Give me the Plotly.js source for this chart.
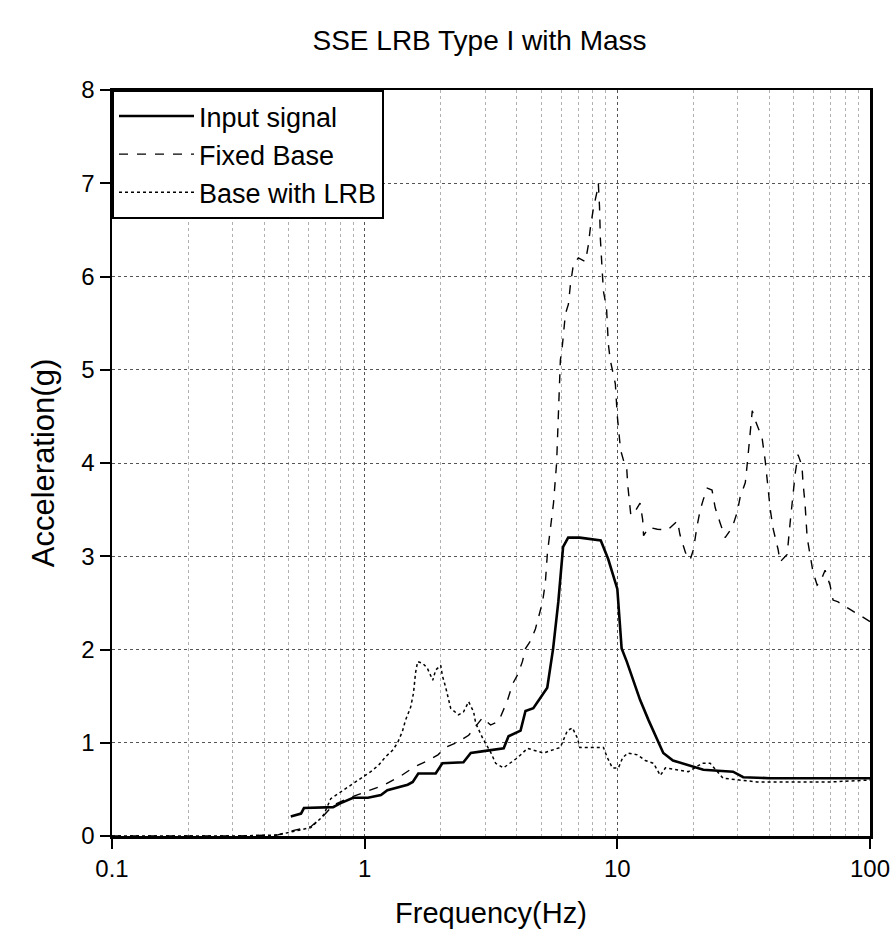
<!DOCTYPE html>
<html>
<head>
<meta charset="utf-8">
<script src="https://cdn.plot.ly/plotly-3.0.1.min.js"></script>
<style>html,body{margin:0;padding:0;background:#fff;}#chart{width:893px;height:946px;}</style>
</head>
<body>
<div id="chart"></div>
<script>
const seriesNames = ["Input signal", "Fixed Base", "Base with LRB"];

const freqInput = [0.51,0.56,0.575,0.75,0.80,0.90,1.03,1.16,1.23,1.35,1.48,1.55,1.63,1.91,2.03,2.46,2.63,2.96,3.55,3.71,4.14,4.33,4.65,5.28,5.57,5.84,6.10,6.39,7.10,8.60,9.20,10.0,10.4,10.9,12.3,13.3,14.4,15.2,16.6,18.9,21.9,28.7,31.5,40,60,100];
const accInput  = [0.21,0.24,0.30,0.31,0.35,0.41,0.41,0.44,0.49,0.52,0.55,0.58,0.67,0.67,0.78,0.79,0.89,0.91,0.94,1.07,1.13,1.34,1.37,1.59,2.01,2.51,3.10,3.20,3.20,3.17,2.97,2.65,2.01,1.87,1.46,1.24,1.03,0.89,0.81,0.76,0.71,0.69,0.63,0.62,0.62,0.62];

const freqFixed = [0.1,0.3,0.45,0.524,0.612,0.689,0.75,0.85,1.0,1.2,1.4,1.57,1.75,1.95,2.09,2.35,2.58,2.75,2.93,3.15,3.39,3.67,3.85,4.03,4.21,4.33,4.53,4.74,4.87,5.06,5.19,5.29,5.43,5.59,5.75,5.95,6.06,6.23,6.40,6.52,6.70,7.01,7.48,7.68,7.82,8.04,8.34,8.41,8.50,8.57,8.73,8.81,9.06,9.13,9.21,9.38,9.82,10.0,10.3,10.6,10.9,11.0,11.3,11.5,12.3,12.6,12.7,13.3,14.4,15.8,17.3,17.7,18.6,19.4,20.0,20.7,21.3,21.9,22.7,23.7,24.4,25.5,26.7,28.5,29.8,30.6,32.1,32.7,33.6,34.2,35.1,36.1,37.4,38.5,39.2,40.3,41.4,43.3,44.1,47.0,48.3,49.6,50.6,51.9,53.8,54.3,55.3,56.4,57.9,59.5,61.8,63.5,66.4,69.5,71.4,74.8,83.4,95.5,100];
const accFixed  = [0,0,0.01,0.06,0.10,0.22,0.33,0.40,0.47,0.55,0.65,0.74,0.80,0.87,0.95,1.01,1.08,1.17,1.27,1.19,1.23,1.45,1.63,1.73,1.87,2.01,2.09,2.22,2.33,2.51,2.72,3.04,3.29,3.57,4.00,5.10,5.26,5.60,5.70,5.91,6.13,6.20,6.16,6.34,6.52,6.73,6.93,7.00,6.75,6.40,6.02,5.84,5.67,5.46,5.28,5.10,4.85,4.50,4.14,4.02,3.93,3.76,3.45,3.44,3.57,3.39,3.22,3.31,3.29,3.28,3.38,3.23,3.04,2.96,3.07,3.33,3.50,3.61,3.73,3.71,3.52,3.36,3.20,3.31,3.47,3.63,3.79,4.00,4.39,4.56,4.46,4.37,4.27,4.02,3.79,3.50,3.29,3.07,2.94,3.02,3.36,3.68,3.89,4.09,3.97,3.79,3.57,3.20,3.01,2.83,2.69,2.72,2.85,2.69,2.53,2.51,2.43,2.33,2.30];

const freqLRB = [0.1,0.3,0.45,0.524,0.612,0.67,0.689,0.734,0.857,0.921,1.057,1.136,1.21,1.29,1.35,1.41,1.45,1.52,1.56,1.59,1.62,1.70,1.77,1.86,1.91,2.0,2.03,2.09,2.19,2.35,2.46,2.58,2.70,2.75,2.93,3.15,3.30,3.54,4.03,4.41,5.10,5.95,6.34,6.64,6.95,7.1,8.04,8.81,9.13,9.56,10.1,10.5,11.0,12.0,12.9,13.9,14.8,15.5,19.1,21.7,23.3,26.2,35.7,50,70,100];
const accLRB  = [0,0,0.01,0.05,0.09,0.19,0.23,0.40,0.52,0.58,0.69,0.76,0.85,0.92,1.00,1.12,1.24,1.38,1.53,1.75,1.87,1.85,1.80,1.67,1.78,1.83,1.72,1.60,1.37,1.30,1.33,1.44,1.33,1.21,1.05,0.90,0.78,0.73,0.84,0.94,0.89,0.95,1.13,1.16,1.05,0.95,0.95,0.95,0.84,0.73,0.73,0.84,0.89,0.87,0.81,0.78,0.65,0.73,0.69,0.78,0.78,0.62,0.58,0.58,0.58,0.60];

const xTickVals = [0.1, 1, 10, 100];
const xTickText = ["0.1", "1", "10", "100"];
const yTickVals = [0,1,2,3,4,5,6,7,8];
const xMinorVals = [0.2,0.3,0.4,0.5,0.6,0.7,0.8,0.9,2,3,4,5,6,7,8,9,20,30,40,50,60,70,80,90];

const FONT = "Liberation Sans, Arial, Helvetica, sans-serif";

const traces = [
  {x: freqInput, y: accInput, name: seriesNames[0], mode: "lines",
   line: {color: "#000", width: 2.6, dash: "solid"}},
  {x: freqFixed, y: accFixed, name: seriesNames[1], mode: "lines",
   line: {color: "#000", width: 1.4, dash: "dash"}},
  {x: freqLRB, y: accLRB, name: seriesNames[2], mode: "lines",
   line: {color: "#000", width: 1.5, dash: "dot"}}
];

const layout = {
  width: 893, height: 946,
  paper_bgcolor: "#fff", plot_bgcolor: "#fff",
  margin: {l: 112, r: 23, t: 90, b: 110},
  font: {family: FONT, color: "#000", size: 24},
  title: {text: "SSE LRB Type I with Mass", font: {family: FONT, size: 28, color: "#000"},
          x: 0.537, xanchor: "center", y: 0.958, yanchor: "middle", yref: "container"},
  showlegend: true,
  legend: {x: 0, y: 1, xanchor: "left", yanchor: "top", bgcolor: "#fff",
           bordercolor: "#000", borderwidth: 2, font: {family: FONT, size: 27, color: "#000"},
           tracegroupgap: 0, itemwidth: 75},
  xaxis: {
    type: "log", range: [-1, 2],
    tickmode: "array", tickvals: xTickVals, ticktext: xTickText,
    ticks: "outside", ticklen: 10, tickwidth: 2, tickcolor: "#000",
    showline: true, linecolor: "#000", linewidth: 2.5, mirror: true,
    showgrid: true, gridcolor: "#555", gridwidth: 1, griddash: "dot",
    minor: {tickvals: xMinorVals,
            showgrid: true, gridcolor: "#b0b0b0", gridwidth: 1, griddash: "dot", ticks: ""},
    zeroline: false,
    tickfont: {family: FONT, size: 24, color: "#000"},
    title: {text: "Frequency(Hz)", font: {family: FONT, size: 29, color: "#000"}, standoff: 22}
  },
  yaxis: {
    range: [0, 8], tickmode: "array", tickvals: yTickVals,
    ticks: "outside", ticklen: 10, tickwidth: 2, tickcolor: "#000",
    showline: true, linecolor: "#000", linewidth: 2.5, mirror: true,
    showgrid: true, gridcolor: "#555", gridwidth: 1, griddash: "dot",
    zeroline: false,
    tickfont: {family: FONT, size: 24, color: "#000"},
    title: {text: "Acceleration(g)", font: {family: FONT, size: 31, color: "#000"}, standoff: 18}
  }
};

Plotly.newPlot("chart", traces, layout, {displayModeBar: false, staticPlot: true});
</script>
</body>
</html>
